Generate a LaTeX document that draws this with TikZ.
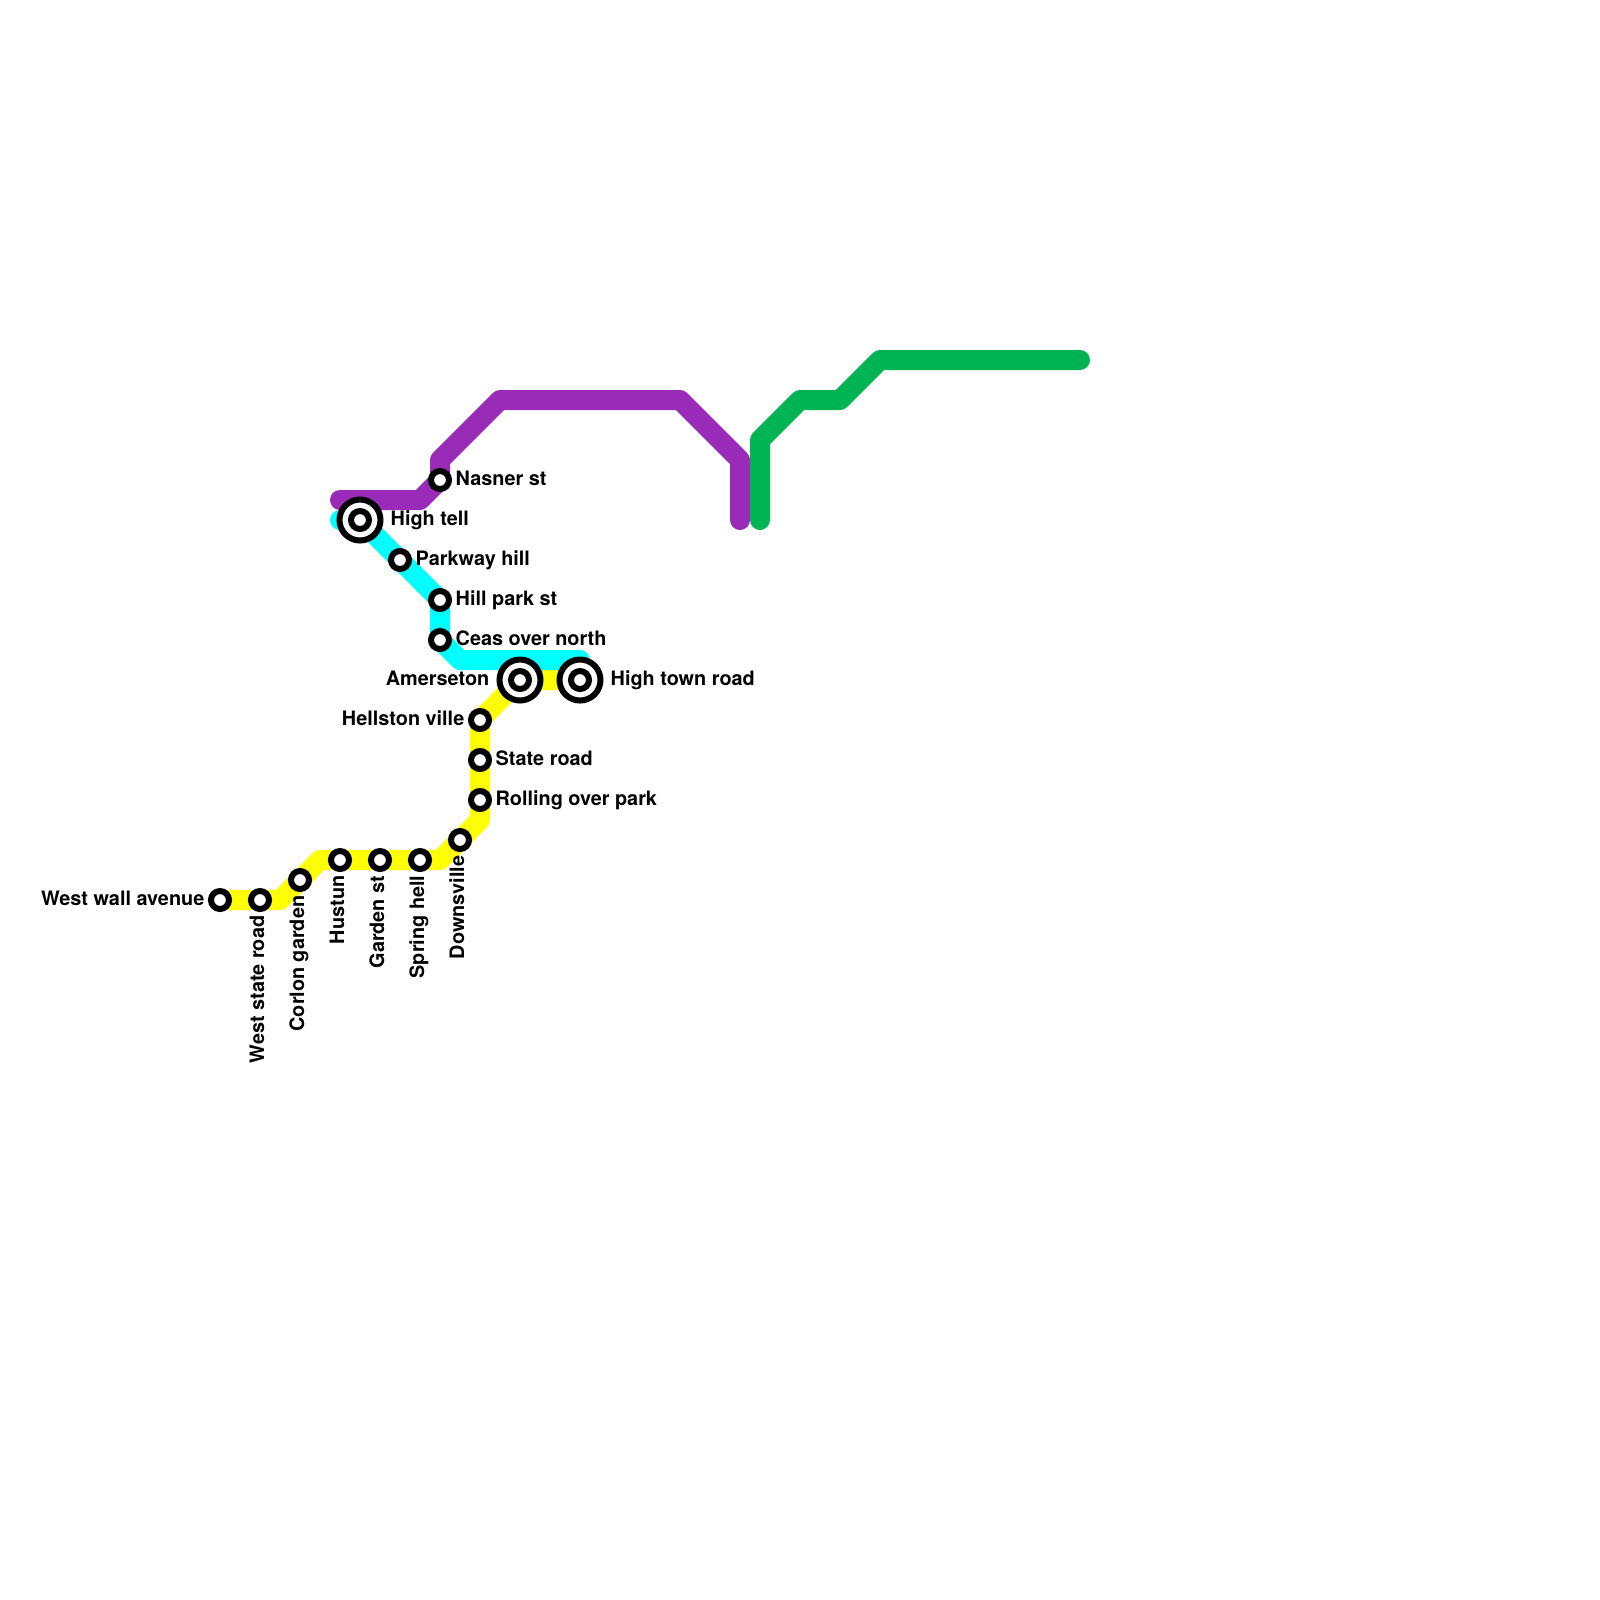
\documentclass[tikz,border=0pt]{standalone}
\usepackage{fontspec}
\setmainfont{TeX Gyre Heros}
\usetikzlibrary{backgrounds}
\definecolor{lineyellow}{RGB}{255,255,0}
\definecolor{linecyan}{RGB}{0,255,255}
\definecolor{linepurple}{RGB}{153,43,184}
\definecolor{linegreen}{RGB}{0,179,83}
\tikzset
{
  metro/.style={line width=0.2cm,line join=round,line cap=round},
  station/.style={circle,draw=black,fill=white,line width=0.06cm,minimum size=0.18cm,inner sep=0pt,outer sep=0pt},
  hub/.style={circle,draw=black,fill=white,line width=0.06cm,minimum size=0.41cm,inner sep=0pt,outer sep=0pt},
  stationtext/.style={font=\fontsize{5.65pt}{6pt}\selectfont\bfseries,inner sep=0pt},
  textright/.style={stationtext,anchor=mid west,yshift=0.04cm},
  textleft/.style={stationtext,anchor=mid east,yshift=0.04cm},
  textdown/.style={stationtext,rotate=90,anchor=mid east,yshift=0.05cm}
}

\begin{document}
\begin{tikzpicture}[x=0.2cm,y=-0.2cm]
        \useasboundingbox (0,0) rectangle (80,80);

        % Stations of the yellow line
        \node[station] (westwall) at (11,45) {};
        \node[station] (weststate) at (13,45) {};
        \node[station] (corlon) at (15,44) {};
        \node[station] (hustun) at (17,43) {};
        \node[station] (garden) at (19,43) {};
        \node[station] (spring) at (21,43) {};
        \node[station] (downsville) at (23,42) {};
        \node[station] (rolling) at (24,40) {};
        \node[station] (state) at (24,38) {};
        \node[station] (hellston) at (24,36) {};

        % Stations of the cyan line
        \node[station] (parkway) at (20,28) {};
        \node[station] (hillpark) at (22,30) {};
        \node[station] (ceas) at (22,32) {};

        % Stations of the purple line
        \node[station] (nasner) at (22,24) {};

        % Interchanges
        \foreach \hubname/\hubpos in {hightell/{18,26},amerseton/{26,34},hightown/{29,34}}
        {
          \node[hub] (\hubname) at (\hubpos) {};
          \node[station] (\hubname inner) at (\hubpos) {};
        }

        % Bends and free ends
        \coordinate (yellowa) at (14,45);
        \coordinate (yellowb) at (16,43);
        \coordinate (yellowc) at (22,43);
        \coordinate (yellowd) at (24,41);
        \coordinate (cyanstart) at (17,26);
        \coordinate (cyana) at (23,33);
        \coordinate (cyanend) at (29,33);
        \coordinate (purplestart) at (17,25);
        \coordinate (purplea) at (21,25);
        \coordinate (purpleb) at (22,23);
        \coordinate (purplec) at (25,20);
        \coordinate (purpled) at (34,20);
        \coordinate (purplee) at (37,23);
        \coordinate (purpleend) at (37,26);
        \coordinate (greenstart) at (38,26);
        \coordinate (greena) at (38,22);
        \coordinate (greenb) at (40,20);
        \coordinate (greenc) at (42,20);
        \coordinate (greend) at (44,18);
        \coordinate (greenend) at (54,18);

        % Draw the lines behind the stations
        \begin{scope}[on background layer]
          \draw[metro,lineyellow] (westwall.center) -- (yellowa) -- (yellowb) -- (yellowc) -- (yellowd) -- (hellston.center) -- (amerseton.center) -- (hightown.center);
          \draw[metro,linecyan] (cyanstart) -- (hightell.center) -- (hillpark.center) -- (ceas.center) -- (cyana) -- (cyanend);
          \draw[metro,linepurple] (purplestart) -- (purplea) -- (nasner.center) -- (purpleb) -- (purplec) -- (purpled) -- (purplee) -- (purpleend);
          \draw[metro,linegreen] (greenstart) -- (greena) -- (greenb) -- (greenc) -- (greend) -- (greenend);
        \end{scope}

        % Labels to the right
        \node[textright] (nasnerlabel) at ([xshift=0.15cm]nasner.center) {Nasner st};
        \node[textright] (hightelllabel) at ([xshift=0.3cm]hightell.center) {High tell};
        \node[textright] (parkwaylabel) at ([xshift=0.15cm]parkway.center) {Parkway hill};
        \node[textright] (hillparklabel) at ([xshift=0.15cm]hillpark.center) {Hill park st};
        \node[textright] (ceaslabel) at ([xshift=0.15cm]ceas.center) {Ceas over north};
        \node[textright] (hightownlabel) at ([xshift=0.3cm]hightown.center) {High town road};
        \node[textright] (statelabel) at ([xshift=0.15cm]state.center) {State road};
        \node[textright] (rollinglabel) at ([xshift=0.15cm]rolling.center) {Rolling over park};

        % Labels to the left
        \node[textleft] (amersetonlabel) at ([xshift=-0.3cm]amerseton.center) {Amerseton};
        \node[textleft] (hellstonlabel) at ([xshift=-0.15cm]hellston.center) {Hellston ville};
        \node[textleft] (westwalllabel) at ([xshift=-0.15cm]westwall.center) {West wall avenue};

        % Labels going down
        \node[textdown] (weststatelabel) at ([yshift=-0.15cm]weststate.center) {West state road};
        \node[textdown] (corlonlabel) at ([yshift=-0.15cm]corlon.center) {Corlon garden};
        \node[textdown] (hustunlabel) at ([yshift=-0.15cm]hustun.center) {Hustun};
        \node[textdown] (gardenlabel) at ([yshift=-0.15cm]garden.center) {Garden st};
        \node[textdown] (springlabel) at ([yshift=-0.15cm]spring.center) {Spring hell};
        \node[textdown] (downsvillelabel) at ([yshift=-0.15cm]downsville.center) {Downsville};
    \end{tikzpicture}
\end{document}
